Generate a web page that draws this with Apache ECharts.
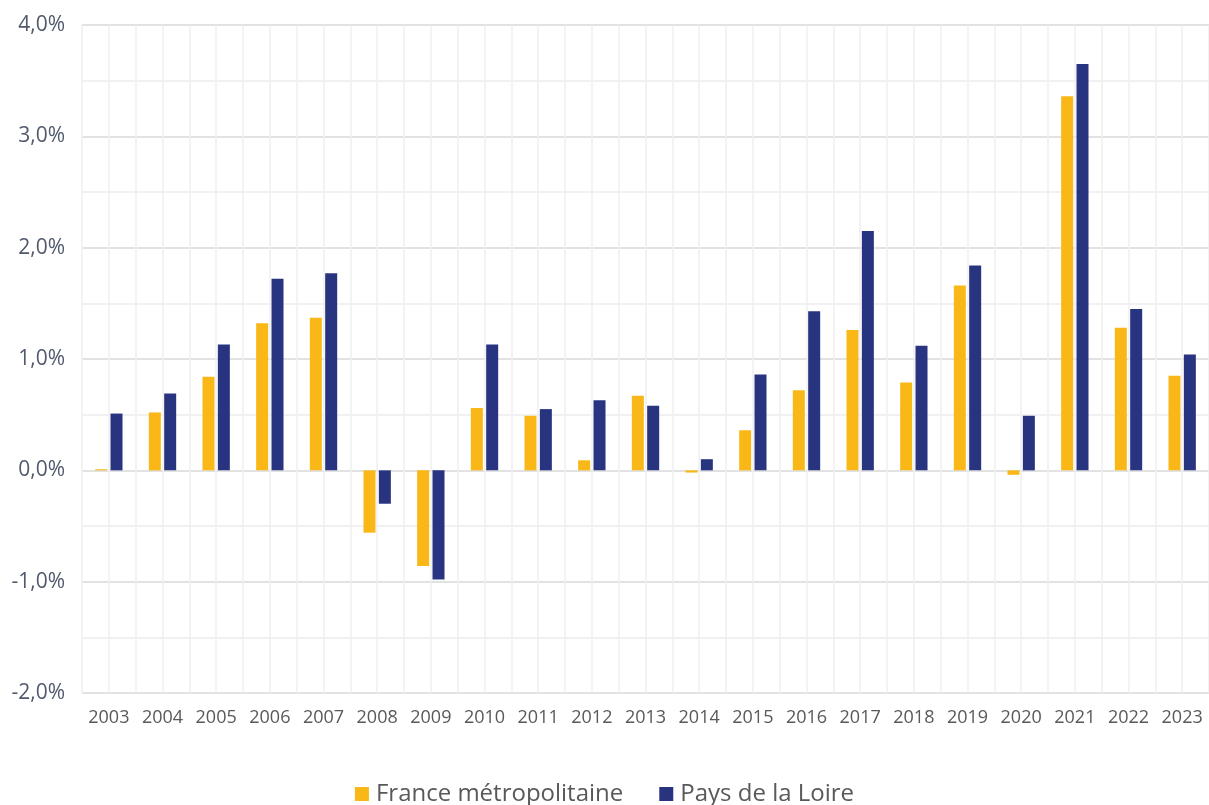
<!DOCTYPE html>
<html>
<head>
<meta charset="utf-8">
<script src="https://cdn.jsdelivr.net/npm/echarts@6/dist/echarts.min.js"></script>
<style>
  html, body { margin: 0; padding: 0; background: #ffffff; }
  #chart { width: 1209px; height: 805px; }
</style>
</head>
<body>
<div id="chart"></div>
<script>
// Annual growth rate (%), 2003–2023
const years = ['2003','2004','2005','2006','2007','2008','2009','2010','2011','2012','2013',
               '2014','2015','2016','2017','2018','2019','2020','2021','2022','2023'];
const franceMetro = [0.01, 0.52, 0.84, 1.32, 1.37, -0.56, -0.86, 0.56, 0.49, 0.09, 0.67,
                     -0.02, 0.36, 0.72, 1.26, 0.79, 1.66, -0.04, 3.36, 1.28, 0.85];
const paysDeLaLoire = [0.51, 0.69, 1.13, 1.72, 1.77, -0.30, -0.98, 1.13, 0.55, 0.63, 0.58,
                       0.10, 0.86, 1.43, 2.15, 1.12, 1.84, 0.49, 3.65, 1.45, 1.04];
const seriesNames = ['France métropolitaine', 'Pays de la Loire'];
const yTicks = { min: -2, max: 4, step: 1 };

const FONT = '"Open Sans", "Noto Sans", sans-serif';
const chart = echarts.init(document.getElementById('chart'), null, { renderer: 'canvas' });

chart.setOption({
  animation: false,
  backgroundColor: '#ffffff',
  grid: { left: 82, right: 0, top: 25, bottom: 112, containLabel: false },
  legend: {
    data: seriesNames,
    top: 777,
    left: 'center',
    icon: 'rect',
    itemWidth: 14,
    itemHeight: 14,
    itemGap: 36,
    textStyle: { color: '#595959', fontSize: 24, fontFamily: FONT, padding: [0, 0, 0, 2] }
  },
  xAxis: [
    {
      type: 'category',
      data: years,
      axisLine: { show: false },
      axisTick: { show: false },
      splitLine: { show: false },
      axisLabel: { color: '#595959', fontSize: 18, fontFamily: FONT, margin: 16, interval: 0 }
    },
    {
      // half-category vertical grid lines
      type: 'value',
      min: 0,
      max: years.length * 2,
      interval: 1,
      show: true,
      position: 'top',
      axisLine: { show: false },
      axisTick: { show: false },
      axisLabel: { show: false },
      splitLine: { show: true, lineStyle: { color: '#efefef', width: 1.5 } }
    }
  ],
  yAxis: {
    type: 'value',
    min: yTicks.min,
    max: yTicks.max,
    interval: yTicks.step,
    axisLine: { show: false },
    axisTick: { show: false },
    axisLabel: {
      color: '#505a6c',
      fontSize: 21,
      fontFamily: FONT,
      margin: 17,
      formatter: v => v.toFixed(1).replace('.', ',') + '%'
    },
    splitLine: { show: true, lineStyle: { color: '#d9d9d9', width: 1.5 } },
    minorTick: { show: false, splitNumber: 2 },
    minorSplitLine: { show: true, lineStyle: { color: '#ededed', width: 1.5 } }
  },
  series: [
    {
      name: seriesNames[0],
      type: 'bar',
      data: franceMetro,
      barWidth: 12,
      barGap: '28%',
      itemStyle: { color: '#f9b817' }
    },
    {
      name: seriesNames[1],
      type: 'bar',
      data: paysDeLaLoire,
      barWidth: 12,
      barGap: '28%',
      itemStyle: { color: '#283480' }
    }
  ]
});
</script>
</body>
</html>
